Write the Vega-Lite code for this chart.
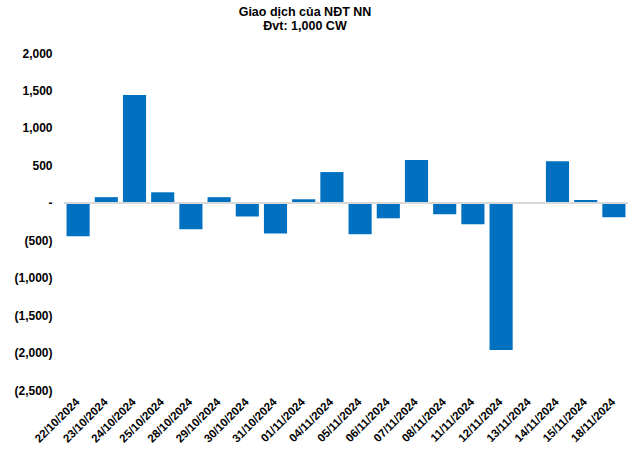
{
  "$schema": "https://vega.github.io/schema/vega-lite/v6.json",
  "autosize": "none",
  "width": 564,
  "height": 337,
  "padding": {"left": 64, "top": 53, "right": 12, "bottom": 59},
  "background": "white",
  "config": {
    "view": {"stroke": null},
    "font": "Liberation Sans",
    "axisY": {
      "title": null,
      "domain": false,
      "ticks": false,
      "grid": false,
      "labelPadding": 12,
      "labelFontSize": 12,
      "labelFontWeight": "bold",
      "labelColor": "#000000",
      "labelFont": "Liberation Sans",
      "labelOverlap": false
    }
  },
  "title": {
    "text": ["Giao dịch của NĐT NN", "Đvt: 1,000 CW"],
    "fontSize": 12.5,
    "fontWeight": "bold",
    "font": "Liberation Sans",
    "color": "#000000",
    "anchor": "middle",
    "dx": -41,
    "offset": 15,
    "lineHeight": 14
  },
  "data": {
    "values": [
      {"date": "22/10/2024", "value": -447},
      {"date": "23/10/2024", "value": 75},
      {"date": "24/10/2024", "value": 1440},
      {"date": "25/10/2024", "value": 140},
      {"date": "28/10/2024", "value": -355},
      {"date": "29/10/2024", "value": 75},
      {"date": "30/10/2024", "value": -183},
      {"date": "31/10/2024", "value": -410},
      {"date": "01/11/2024", "value": 47},
      {"date": "04/11/2024", "value": 410},
      {"date": "05/11/2024", "value": -420},
      {"date": "06/11/2024", "value": -207},
      {"date": "07/11/2024", "value": 570},
      {"date": "08/11/2024", "value": -153},
      {"date": "11/11/2024", "value": -287},
      {"date": "12/11/2024", "value": -1965},
      {"date": "13/11/2024", "value": 0},
      {"date": "14/11/2024", "value": 553},
      {"date": "15/11/2024", "value": 37},
      {"date": "18/11/2024", "value": -193}
    ]
  },
  "layer": [
    {
      "mark": {"type": "bar", "color": "#0070C0"},
      "encoding": {
        "x": {
          "field": "date",
          "type": "ordinal",
          "sort": null,
          "scale": {"paddingInner": 0.18, "paddingOuter": 0.09},
          "axis": {
            "title": null,
            "domain": false,
            "ticks": false,
            "labelAngle": -45,
            "labelAlign": "right",
            "labelBaseline": "middle",
            "labelPadding": 10,
            "labelFontSize": 11.5,
            "labelFontWeight": "bold",
            "labelColor": "#000000",
            "labelFont": "Liberation Sans",
            "labelOverlap": false
          }
        },
        "y": {
          "field": "value",
          "type": "quantitative",
          "scale": {"domain": [-2500, 2000], "nice": false},
          "axis": {
            "values": [-2500, -2000, -1500, -1000, -500, 0, 500, 1000, 1500, 2000],
            "labelOverlap": false,
            "labelExpr": "datum.value == 0 ? '-\u00a0\u00a0\u00a0\u00a0' : (datum.value < 0 ? '(' + format(-datum.value, ',') + ')' : format(datum.value, ',') + '\u00a0')"
          }
        }
      }
    },
    {
      "mark": {"type": "rule", "color": "#D9D9D9", "strokeWidth": 1.5},
      "encoding": {
        "y": {
          "datum": 0,
          "type": "quantitative",
          "axis": {
            "values": [-2500, -2000, -1500, -1000, -500, 0, 500, 1000, 1500, 2000],
            "labelOverlap": false,
            "labelExpr": "datum.value == 0 ? '-\u00a0\u00a0\u00a0\u00a0' : (datum.value < 0 ? '(' + format(-datum.value, ',') + ')' : format(datum.value, ',') + '\u00a0')"
          }
        }
      }
    }
  ]
}
